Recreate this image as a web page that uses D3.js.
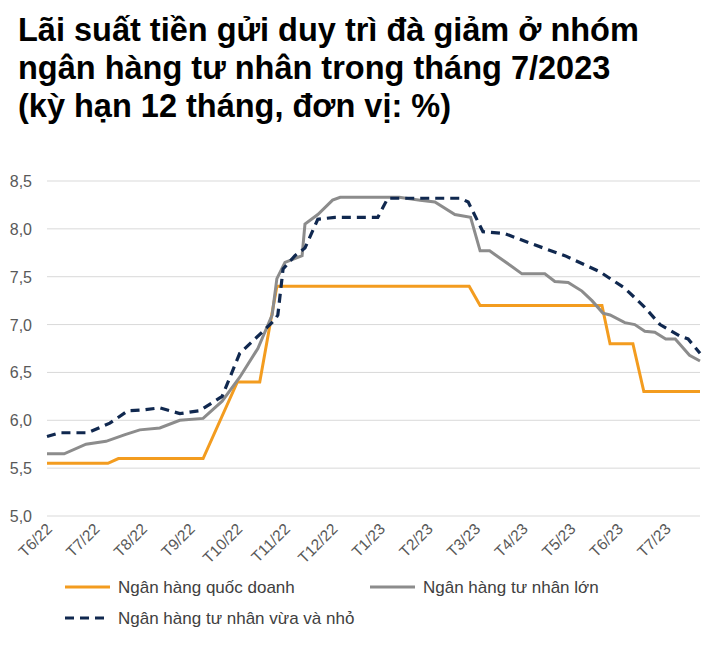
<!DOCTYPE html>
<html><head><meta charset="utf-8">
<script src="https://cdn.jsdelivr.net/npm/d3@7"></script>
<style>body{margin:0;background:#fff;font-family:Arial,"Liberation Sans",sans-serif}</style>
</head><body><svg id="c" width="715" height="664"></svg>
<script>
const titleLines = ["Lãi suất tiền gửi duy trì đà giảm ở nhóm","ngân hàng tư nhân trong tháng 7/2023","(kỳ hạn 12 tháng, đơn vị: %)"];
const monthLabels = ["T6/22","T7/22","T8/22","T9/22","T10/22","T11/22","T12/22","T1/23","T2/23","T3/23","T4/23","T5/23","T6/23","T7/23"];
const yTicks = [5.0,5.5,6.0,6.5,7.0,7.5,8.0,8.5];
// [month index (fractional), rate %]
const stateBanks = [[0,5.55],[1.28,5.55],[1.5,5.6],[3.28,5.6],[4.0,6.4],[4.47,6.4],[4.83,7.4],[8.87,7.4],[9.1,7.2],[11.66,7.2],[11.83,6.8],[12.31,6.8],[12.54,6.3],[13.72,6.3]];
const largePrivate = [[0,5.65],[0.36,5.65],[0.82,5.75],[1.24,5.78],[1.64,5.85],[1.95,5.9],[2.37,5.92],[2.79,6.0],[3.28,6.02],[3.68,6.2],[4.05,6.45],[4.43,6.75],[4.73,7.1],[4.83,7.48],[5.0,7.65],[5.36,7.72],[5.42,8.05],[5.69,8.15],[6.0,8.3],[6.16,8.33],[7.4,8.33],[7.84,8.3],[8.15,8.28],[8.57,8.15],[8.9,8.12],[9.1,7.77],[9.3,7.77],[9.73,7.62],[9.98,7.53],[10.46,7.53],[10.67,7.45],[10.95,7.44],[11.24,7.35],[11.45,7.25],[11.68,7.12],[11.83,7.1],[12.14,7.02],[12.35,7.0],[12.56,6.93],[12.77,6.92],[13.0,6.85],[13.2,6.85],[13.5,6.68],[13.72,6.62]];
const smallPrivate = [[0,5.83],[0.27,5.87],[0.86,5.87],[1.32,5.97],[1.7,6.1],[2.06,6.11],[2.37,6.13],[2.79,6.07],[3.21,6.1],[3.68,6.25],[4.05,6.7],[4.37,6.85],[4.79,7.05],[4.85,7.1],[4.96,7.58],[5.21,7.72],[5.42,7.8],[5.69,8.1],[6.05,8.12],[6.95,8.12],[7.16,8.32],[8.68,8.32],[8.85,8.28],[9.16,7.97],[9.62,7.95],[10.15,7.85],[10.88,7.72],[11.62,7.55],[12.14,7.38],[12.56,7.18],[12.88,7.0],[13.3,6.88],[13.47,6.85],[13.72,6.7]];
const legendNames = ["Ngân hàng quốc doanh","Ngân hàng tư nhân lớn","Ngân hàng tư nhân vừa và nhỏ"];

const svg = d3.select("#c");
svg.append("g").selectAll("text").data(titleLines).join("text")
  .attr("x",18).attr("y",(d,i)=>41+i*38).attr("font-size",32.5).attr("font-weight","bold").attr("fill","#000").text(d=>d);

const x = d3.scaleLinear().domain([0,13.72]).range([47,700]);
const y = d3.scaleLinear().domain([5,8.5]).range([516,181]);

svg.append("g").selectAll("line").data(yTicks).join("line")
  .attr("x1",47).attr("x2",700).attr("y1",d=>y(d)).attr("y2",d=>y(d)).attr("stroke","#d9d9d9").attr("stroke-width",1);
svg.append("g").selectAll("text").data(yTicks).join("text")
  .attr("x",32).attr("y",d=>y(d)+6).attr("text-anchor","end").attr("font-size",16).attr("fill","#595959")
  .text(d=>d.toFixed(1).replace(".",","));
svg.append("g").selectAll("text").data(monthLabels).join("text")
  .attr("transform",(d,i)=>`translate(${x(i)+6},${530}) rotate(-45)`).attr("text-anchor","end")
  .attr("font-size",15.5).attr("fill","#595959").text(d=>d);

const line = d3.line().x(d=>x(d[0])).y(d=>y(d[1]));
svg.append("path").attr("d",line(stateBanks)).attr("fill","none").attr("stroke","#f39c1f").attr("stroke-width",3);
svg.append("path").attr("d",line(largePrivate)).attr("fill","none").attr("stroke","#8c8c8c").attr("stroke-width",3);
svg.append("path").attr("d",line(smallPrivate)).attr("fill","none").attr("stroke","#10284f").attr("stroke-width",3.2).attr("stroke-dasharray","9,6");

const leg = [{x:65,y:587,c:"#f39c1f",d:null},{x:370,y:587,c:"#8c8c8c",d:null},{x:65,y:618,c:"#10284f",d:"9,6"}];
leg.forEach((l,i)=>{
  svg.append("line").attr("x1",l.x).attr("x2",l.x+45).attr("y1",l.y).attr("y2",l.y).attr("stroke",l.c).attr("stroke-width",3).attr("stroke-dasharray",l.d);
  svg.append("text").attr("x",l.x+53).attr("y",l.y+6).attr("font-size",17).attr("fill","#404040").text(legendNames[i]);
});
</script></body></html>
